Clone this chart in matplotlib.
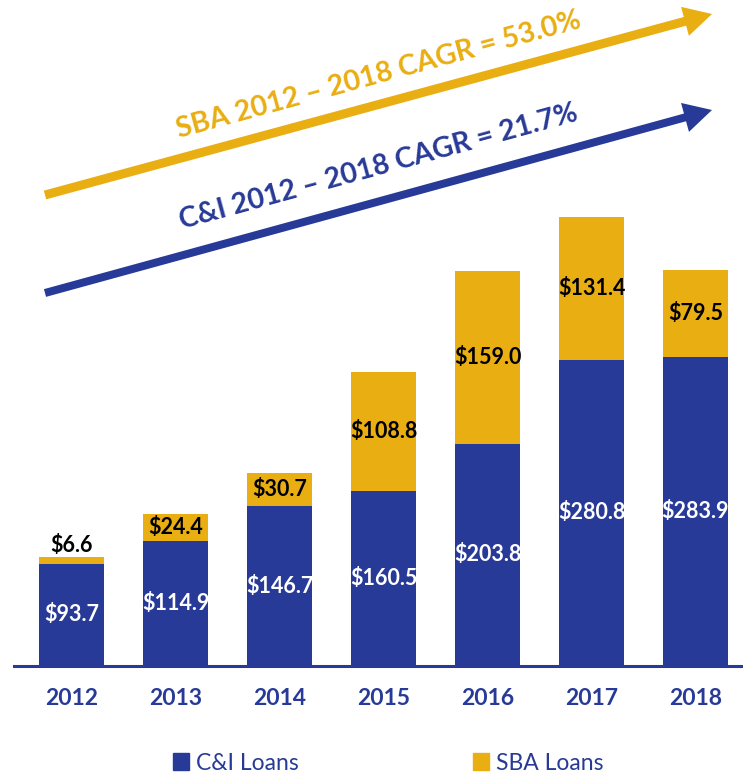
import matplotlib.pyplot as plt
from matplotlib.patches import Patch, FancyArrow

plt.rcParams['font.family'] = ['Lato', 'DejaVu Sans']

years = ["2012", "2013", "2014", "2015", "2016", "2017", "2018"]
ci_loans = [93.7, 114.9, 146.7, 160.5, 203.8, 280.8, 283.9]
sba_loans = [6.6, 24.4, 30.7, 108.8, 159.0, 131.4, 79.5]

NAVY = "#283A97"
GOLD = "#E9AE12"

W, H = 743, 775
fig = plt.figure(figsize=(W / 100, H / 100), dpi=100)

# bar panel: baseline at 666 px from the top
ax = fig.add_axes([14 / W, 109 / H, 729 / W, 666 / H])
x = list(range(len(years)))
ax.bar(x, ci_loans, width=0.625, color=NAVY, zorder=2)
ax.bar(x, sba_loans, width=0.625, bottom=ci_loans, color=GOLD, zorder=2)

for i in x:
    ax.text(i, ci_loans[i] / 2, f"${ci_loans[i]:.1f}", ha="center", va="center",
            color="white", fontsize=15.5, fontweight="bold", zorder=3)
    if sba_loans[i] < 15:
        ax.text(i, ci_loans[i] + sba_loans[i] + 1, f"${sba_loans[i]:.1f}", ha="center",
                va="bottom", color="black", fontsize=15.5, fontweight="bold", zorder=3)
    else:
        ax.text(i, ci_loans[i] + sba_loans[i] / 2, f"${sba_loans[i]:.1f}", ha="center",
                va="center", color="black", fontsize=15.5, fontweight="bold", zorder=3)

ax.set_xlim(-0.553, 6.457)
ax.set_ylim(0, 611)
ax.set_xticks(x)
ax.set_xticklabels(years, fontsize=16.5, fontweight="bold", color=NAVY)
ax.tick_params(axis="x", length=0, pad=16)
ax.set_yticks([])
for side in ["top", "right", "left"]:
    ax.spines[side].set_visible(False)
ax.spines["bottom"].set_color(NAVY)
ax.spines["bottom"].set_linewidth(2.2)
ax.patch.set_alpha(0)

# growth arrows drawn in pixel coordinates
ov = fig.add_axes([0, 0, 1, 1], zorder=5)
ov.set_xlim(0, W)
ov.set_ylim(H, 0)
ov.axis("off")
ov.patch.set_alpha(0)

ov.add_patch(FancyArrow(45, 195, 667, -181, width=9, head_width=30, head_length=28,
                        length_includes_head=True, color=GOLD, lw=0))
ov.add_patch(FancyArrow(45, 293, 667, -183, width=8, head_width=30, head_length=28,
                        length_includes_head=True, color=NAVY, lw=0))

ov.text(379, 75, "SBA 2012 – 2018 CAGR = 53.0%", ha="center", va="center",
        rotation=15.3, rotation_mode="anchor", fontsize=20.5, fontweight="bold", color=GOLD)
ov.text(379, 167, "C&I 2012 – 2018 CAGR = 21.7%", ha="center", va="center",
        rotation=15.3, rotation_mode="anchor", fontsize=20.5, fontweight="bold", color=NAVY)

handles = [Patch(color=NAVY, label="C&I Loans"), Patch(color=GOLD, label="SBA Loans")]
leg = fig.legend(handles=handles, loc="center", bbox_to_anchor=(388 / W, 12 / H), ncol=2,
                 frameon=False, fontsize=16.5, handlelength=0.7, handleheight=0.7,
                 handletextpad=0.3, columnspacing=7.6)
for t in leg.get_texts():
    t.set_color(NAVY)

fig.savefig("out.png", dpi=100)
